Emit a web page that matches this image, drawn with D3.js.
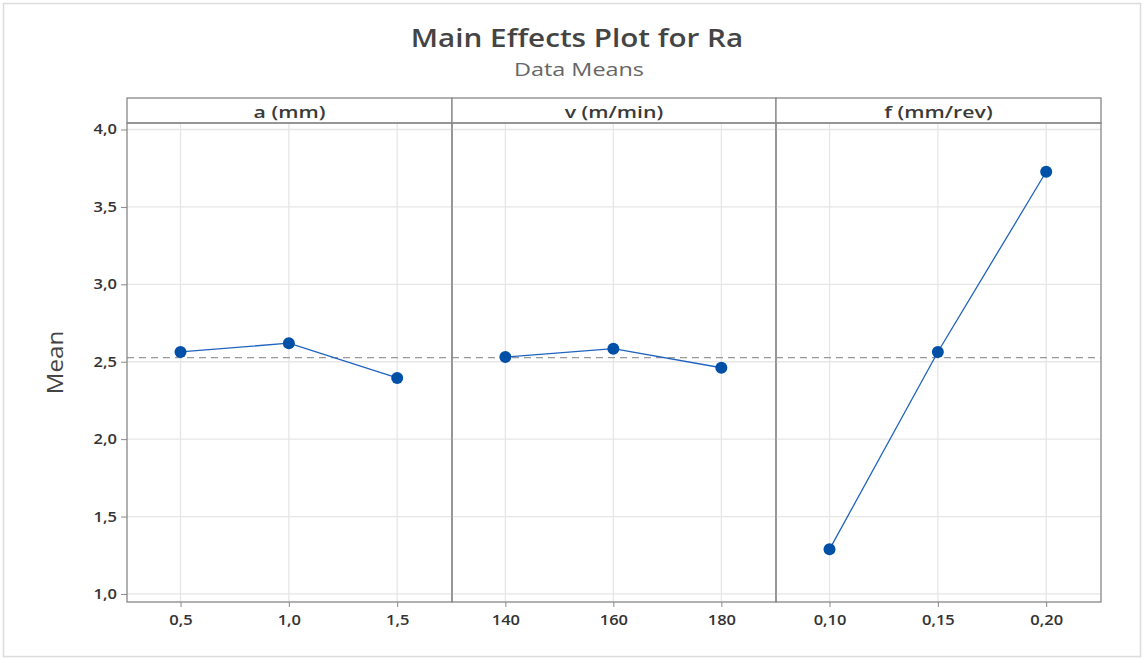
<!DOCTYPE html>
<html><head><meta charset="utf-8">
<script src="https://cdn.jsdelivr.net/npm/d3@7"></script>
<style>body{margin:0;background:#fff;}svg{display:block;font-family:"Open Sans","Noto Sans",sans-serif;}</style>
</head><body><svg id="c" width="1144" height="659"></svg>
<script>
const factorNames = ["a (mm)", "v (m/min)", "f (mm/rev)"];
const aLevels = [0.5, 1.0, 1.5];
const aMeans = [2.563, 2.620, 2.395];
const vLevels = [140, 160, 180];
const vMeans = [2.530, 2.584, 2.461];
const fLevels = [0.10, 0.15, 0.20];
const fMeans = [1.288, 2.563, 3.727];
const aTickLabels = ["0,5", "1,0", "1,5"];
const vTickLabels = ["140", "160", "180"];
const fTickLabels = ["0,10", "0,15", "0,20"];
const yTicks = [1.0, 1.5, 2.0, 2.5, 3.0, 3.5, 4.0];
const grandMean = 2.526;

const panels = [
  {name: factorNames[0], levels: aLevels, means: aMeans, labels: aTickLabels},
  {name: factorNames[1], levels: vLevels, means: vMeans, labels: vTickLabels},
  {name: factorNames[2], levels: fLevels, means: fMeans, labels: fTickLabels}
];

(function(){
const svg = d3.select("#c");
function stretch(sel, k){
  sel.each(function(){
    const w = this.getComputedTextLength();
    this.setAttribute("textLength", (w*k).toFixed(1));
    this.setAttribute("lengthAdjust", "spacingAndGlyphs");
  });
}
svg.append("rect").attr("x",3.5).attr("y",3.5).attr("width",1137).attr("height",653)
  .attr("fill","none").attr("stroke","#dcdcdc").attr("stroke-width",1.5);

const t1 = svg.append("text").attr("x",577).attr("y",47).attr("text-anchor","middle")
  .attr("font-size",26).attr("font-weight",600).attr("fill","#444").text("Main Effects Plot for Ra");
stretch(t1, 1.14);
const t2 = svg.append("text").attr("x",579).attr("y",76).attr("text-anchor","middle")
  .attr("font-size",18).attr("fill","#666").text("Data Means");
stretch(t2, 1.3);

const pLeft = 127, stripTop = 98, pTop = 123, pBottom = 602;
const bounds = [127, 452, 776, 1101];
const y = d3.scaleLinear().domain([0.948, 4.042]).range([pBottom, pTop]);

const yAxis = d3.axisLeft(y).tickValues(yTicks).tickFormat(d => d3.format(".1f")(d).replace(".", ",")).tickSize(6).tickPadding(4);
const ya = svg.append("g").attr("transform",`translate(${pLeft},0)`).call(yAxis);
ya.select(".domain").remove();
ya.selectAll("line").attr("stroke","#888");
ya.selectAll("text").attr("font-size",14).attr("font-weight",600).attr("fill","#333").attr("font-family","'Open Sans',sans-serif");
stretch(ya.selectAll("text"), 1.18);

const tm = svg.append("text").attr("transform",`translate(63,${(pTop+pBottom)/2}) rotate(-90)`)
  .attr("text-anchor","middle").attr("font-size",21).attr("fill","#444").text("Mean");
stretch(tm, 1.15);

panels.forEach((p, i) => {
  const x0 = bounds[i], x1 = bounds[i+1];
  const step = p.levels[1] - p.levels[0];
  const x = d3.scaleLinear()
    .domain([p.levels[0] - step*0.494, p.levels[2] + step*0.506])
    .range([x0, x1]);
  const g = svg.append("g");
  g.selectAll(".hg").data(yTicks).join("line")
    .attr("x1",x0).attr("x2",x1).attr("y1",d=>y(d)).attr("y2",d=>y(d))
    .attr("stroke","#e6e6e6").attr("stroke-width",1.3);
  g.selectAll(".vg").data(p.levels).join("line")
    .attr("x1",d=>x(d)).attr("x2",d=>x(d)).attr("y1",pTop).attr("y2",pBottom)
    .attr("stroke","#e6e6e6").attr("stroke-width",1.3);
  g.append("line").attr("x1",x0).attr("x2",x1).attr("y1",y(grandMean)).attr("y2",y(grandMean))
    .attr("stroke","#999").attr("stroke-width",1.3).attr("stroke-dasharray","7,5");
  const xAxis = d3.axisBottom(x).tickValues(p.levels).tickFormat((d,j)=>p.labels[j]).tickSize(5).tickPadding(8);
  const xa = svg.append("g").attr("transform",`translate(0,${pBottom})`).call(xAxis);
  xa.select(".domain").remove();
  xa.selectAll("line").attr("stroke","#888");
  xa.selectAll("text").attr("font-size",14).attr("font-weight",600).attr("fill","#333").attr("font-family","'Open Sans',sans-serif");
  stretch(xa.selectAll("text"), 1.18);
  const pts = p.levels.map((l,j)=>[l,p.means[j]]);
  g.append("path").datum(pts)
    .attr("d", d3.line().x(d=>x(d[0])).y(d=>y(d[1])))
    .attr("fill","none").attr("stroke","#1f63bf").attr("stroke-width",1.3);
  g.selectAll("circle").data(pts).join("circle")
    .attr("cx",d=>x(d[0])).attr("cy",d=>y(d[1])).attr("r",6).attr("fill","#0050a8");
  svg.append("rect").attr("x",x0).attr("y",stripTop).attr("width",x1-x0).attr("height",pTop-stripTop)
    .attr("fill","#fff").attr("stroke","#888").attr("stroke-width",1.3);
  const st = svg.append("text").attr("x",(x0+x1)/2).attr("y",stripTop+20).attr("text-anchor","middle")
    .attr("font-size",17).attr("font-weight",600).attr("fill","#3a3a3a").text(p.name);
  stretch(st, 1.25);
  svg.append("rect").attr("x",x0).attr("y",pTop).attr("width",x1-x0).attr("height",pBottom-pTop)
    .attr("fill","none").attr("stroke","#888").attr("stroke-width",1.3);
});
})();
</script></body></html>
